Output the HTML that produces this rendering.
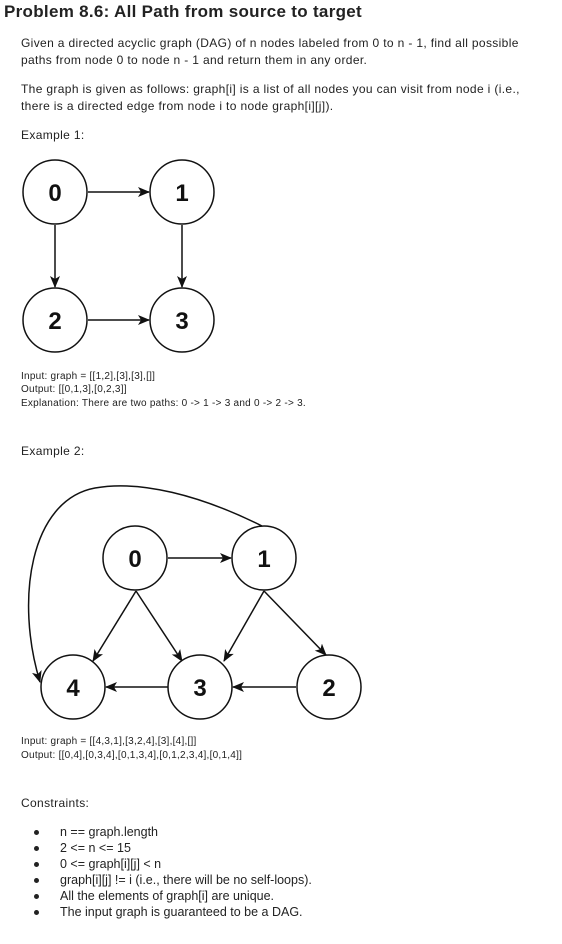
<!DOCTYPE html>
<html><head><style>
body{margin:0;width:562px;height:944px;background:#fff;position:relative;font-family:"Liberation Sans",Arial,sans-serif;color:#222;overflow:hidden}
.t{position:absolute;white-space:nowrap}
.p{font-size:12px;left:21px;letter-spacing:0.35px}
.s{font-size:10px;left:21px;letter-spacing:0.25px}
.b{font-size:12.5px;left:60px}
.d{position:absolute;left:34px;width:5px;height:5px;border-radius:50%;background:#222}
svg{position:absolute;left:0;top:0}
</style></head><body>
<div class="t" style="left:4px;top:2px;font-size:17px;font-weight:bold;letter-spacing:0.3px">Problem 8.6: All Path from source to target</div>
<div class="t p" style="top:36px">Given a directed acyclic graph (DAG) of n nodes labeled from 0 to n - 1, find all possible</div>
<div class="t p" style="top:53px">paths from node 0 to node n - 1 and return them in any order.</div>
<div class="t p" style="top:82px">The graph is given as follows: graph[i] is a list of all nodes you can visit from node i (i.e.,</div>
<div class="t p" style="top:99px">there is a directed edge from node i to node graph[i][j]).</div>
<div class="t p" style="top:128px">Example 1:</div>
<div class="t s" style="top:371px">Input: graph = [[1,2],[3],[3],[]]</div>
<div class="t s" style="top:384px">Output: [[0,1,3],[0,2,3]]</div>
<div class="t s" style="top:398px">Explanation: There are two paths: 0 -&gt; 1 -&gt; 3 and 0 -&gt; 2 -&gt; 3.</div>
<div class="t p" style="top:444px">Example 2:</div>
<div class="t s" style="top:736px">Input: graph = [[4,3,1],[3,2,4],[3],[4],[]]</div>
<div class="t s" style="top:750px">Output: [[0,4],[0,3,4],[0,1,3,4],[0,1,2,3,4],[0,1,4]]</div>
<div class="t p" style="top:796px">Constraints:</div>
<div class="d" style="top:830px"></div><div class="t b" style="top:825px">n == graph.length</div>
<div class="d" style="top:846px"></div><div class="t b" style="top:841px">2 &lt;= n &lt;= 15</div>
<div class="d" style="top:862px"></div><div class="t b" style="top:857px">0 &lt;= graph[i][j] &lt; n</div>
<div class="d" style="top:878px"></div><div class="t b" style="top:873px">graph[i][j] != i (i.e., there will be no self-loops).</div>
<div class="d" style="top:894px"></div><div class="t b" style="top:889px">All the elements of graph[i] are unique.</div>
<div class="d" style="top:910px"></div><div class="t b" style="top:905px">The input graph is guaranteed to be a DAG.</div>
<svg width="562" height="944">
<defs><marker id="a" markerWidth="12" markerHeight="12" refX="11" refY="6" orient="auto" markerUnits="userSpaceOnUse"><path d="M0,1 L12,6 L0,11 L3,6z" fill="#111"/></marker></defs>
<g stroke="#111" stroke-width="1.5" fill="none" marker-end="url(#a)">
<line x1="88" y1="192" x2="149" y2="192"/>
<line x1="55" y1="225" x2="55" y2="287"/>
<line x1="182" y1="225" x2="182" y2="287"/>
<line x1="88" y1="320" x2="149" y2="320"/>
<line x1="168" y1="558" x2="231" y2="558"/>
<line x1="136" y1="591" x2="93" y2="661"/>
<line x1="136" y1="591" x2="182" y2="661"/>
<line x1="264" y1="591" x2="224" y2="661"/>
<line x1="264" y1="591" x2="326" y2="655"/>
<line x1="296" y1="687" x2="233" y2="687"/>
<line x1="168" y1="687" x2="106" y2="687"/>
<path d="M262,526 C200,495 140,480 95,488 C30,500 15,600 40,682"/>
</g>
<g stroke="#111" stroke-width="1.5" fill="#fff">
<circle cx="55" cy="192" r="32"/><circle cx="182" cy="192" r="32"/>
<circle cx="55" cy="320" r="32"/><circle cx="182" cy="320" r="32"/>
<circle cx="135" cy="558" r="32"/><circle cx="264" cy="558" r="32"/>
<circle cx="73" cy="687" r="32"/><circle cx="200" cy="687" r="32"/><circle cx="329" cy="687" r="32"/>
</g>
<g font-family="Liberation Sans,Arial,sans-serif" font-weight="bold" font-size="24" text-anchor="middle" fill="#111">
<text x="55" y="201">0</text><text x="182" y="201">1</text>
<text x="55" y="329">2</text><text x="182" y="329">3</text>
<text x="135" y="567">0</text><text x="264" y="567">1</text>
<text x="73" y="696">4</text><text x="200" y="696">3</text><text x="329" y="696">2</text>
</g>
</svg>
</body></html>
